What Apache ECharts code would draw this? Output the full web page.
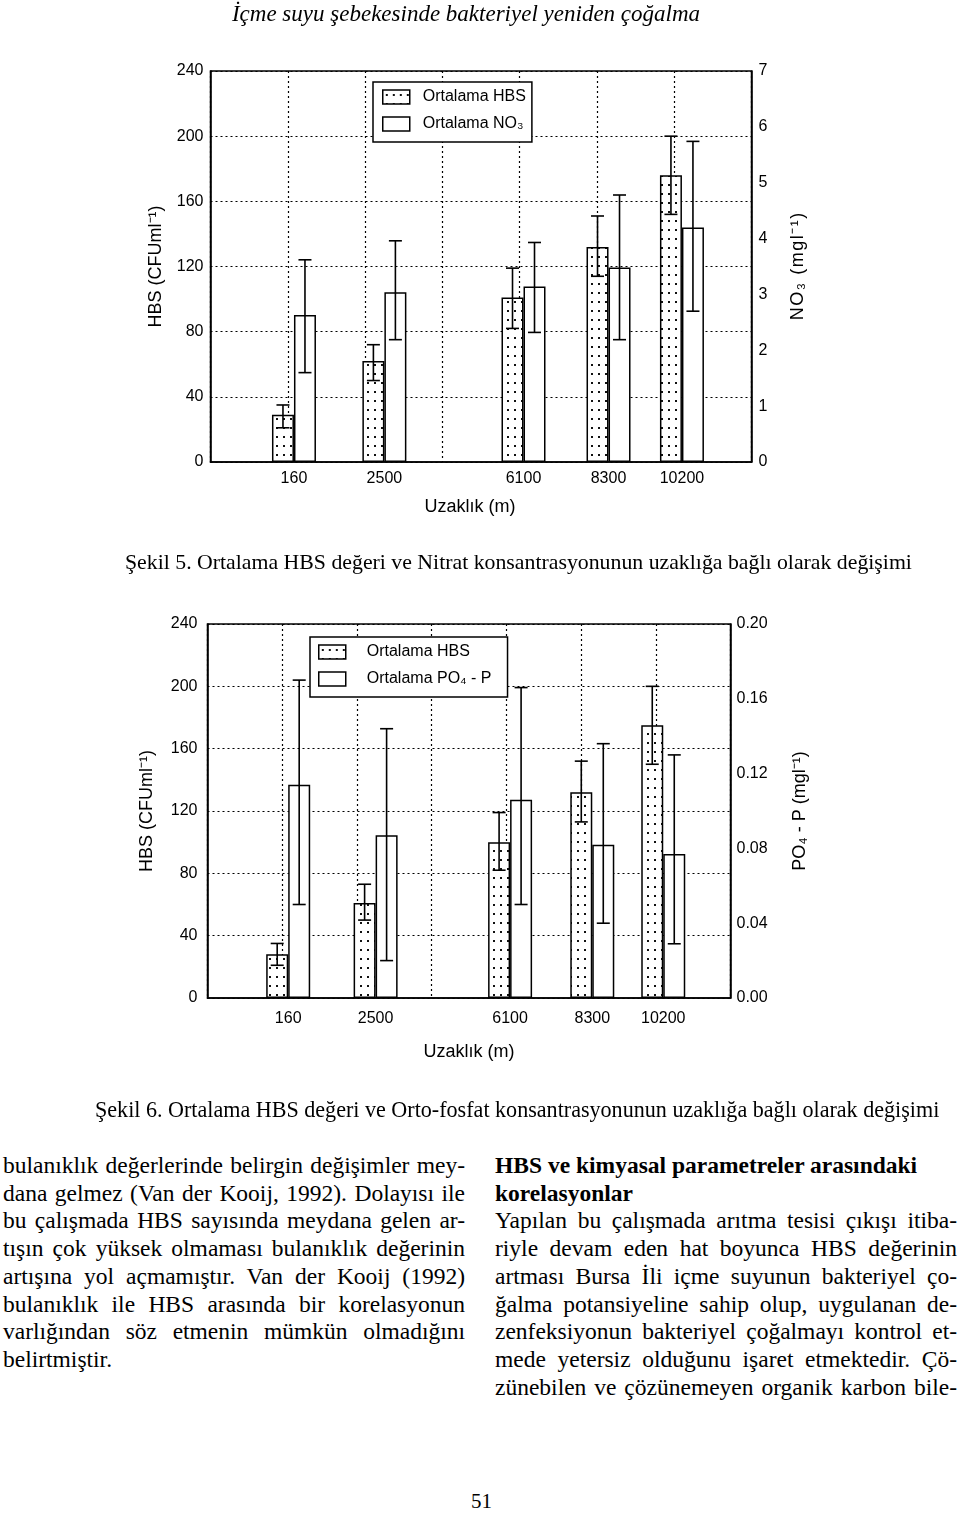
<!DOCTYPE html>
<html><head><meta charset="utf-8">
<script src="https://cdn.jsdelivr.net/npm/echarts@6/dist/echarts.min.js"></script>
<style>
html,body{margin:0;padding:0;background:#fff}
body{width:960px;height:1516px;position:relative;overflow:hidden;font-family:"Liberation Serif","Times New Roman",serif;color:#000}
#chart{position:absolute;left:0;top:0;width:960px;height:1100px}
.t{position:absolute;white-space:nowrap}
.hdr{top:0px;left:0;width:932px;text-align:center;font-style:italic;font-size:23px;line-height:28px}
.cap{font-size:21.8px;line-height:26px}
.col{position:absolute;font-size:23.5px;line-height:27.7px;width:462px}
.j{text-align:justify;text-align-last:justify}
.b{font-weight:bold}
</style>
</head><body>
<div id="chart"></div>
<div class="t hdr">İçme suyu şebekesinde bakteriyel yeniden çoğalma</div>
<div class="t cap" style="left:125px;top:549px">Şekil 5. Ortalama HBS değeri ve Nitrat konsantrasyonunun uzaklığa bağlı olarak değişimi</div>
<div class="t cap" style="left:95px;top:1097px;font-size:22.1px">Şekil 6. Ortalama HBS değeri ve Orto-fosfat konsantrasyonunun uzaklığa bağlı olarak değişimi</div>
<div class="col" style="left:3px;top:1152px">
<div class="j">bulanıklık değerlerinde belirgin değişimler mey-</div>
<div class="j">dana gelmez (Van der Kooij, 1992). Dolayısı ile</div>
<div class="j">bu çalışmada HBS sayısında meydana gelen ar-</div>
<div class="j">tışın çok yüksek olmaması bulanıklık değerinin</div>
<div class="j">artışına yol açmamıştır. Van der Kooij (1992)</div>
<div class="j">bulanıklık ile HBS arasında bir korelasyonun</div>
<div class="j">varlığından söz etmenin mümkün olmadığını</div>
<div>belirtmiştir.</div>
</div>
<div class="col" style="left:495px;top:1152px">
<div class="b">HBS ve kimyasal parametreler arasındaki</div>
<div class="b">korelasyonlar</div>
<div class="j">Yapılan bu çalışmada arıtma tesisi çıkışı itiba-</div>
<div class="j">riyle devam eden hat boyunca HBS değerinin</div>
<div class="j">artması Bursa İli içme suyunun bakteriyel ço-</div>
<div class="j">ğalma potansiyeline sahip olup, uygulanan de-</div>
<div class="j">zenfeksiyonun bakteriyel çoğalmayı kontrol et-</div>
<div class="j">mede yetersiz olduğunu işaret etmektedir. Çö-</div>
<div class="j">zünebilen ve çözünemeyen organik karbon bile-</div>
</div>
<div class="t" style="left:471px;top:1489px;font-size:21px">51</div>
<script>
// ---- data ----
const distances = [160, 2500, 6100, 8300, 10200];
const distanceTicks = [160, 2500, 6100, 8300, 10200];
const hbsTicks = [0, 40, 80, 120, 160, 200, 240];
const no3Ticks = [0, 1, 2, 3, 4, 5, 6, 7];
const po4Ticks = [0, 0.04, 0.08, 0.12, 0.16, 0.20];

// Figure 5
const hbs5 = [29, 62, 101, 132, 176];
const hbs5Low = [21, 50, 82, 114, 152];
const hbs5High = [35, 72, 119, 151, 200];
const no3 = [2.63, 3.04, 3.14, 3.48, 4.20];
const no3Low = [1.60, 2.19, 2.32, 2.19, 2.70];
const no3High = [3.62, 3.96, 3.93, 4.78, 5.74];

// Figure 6
const hbs6 = [28, 61, 100, 132, 175];
const hbs6Low = [21, 50, 82, 113, 150];
const hbs6High = [35, 73, 119, 152, 200];
const po4 = [0.114, 0.087, 0.106, 0.082, 0.077];
const po4Low = [0.050, 0.020, 0.050, 0.040, 0.029];
const po4High = [0.170, 0.144, 0.166, 0.136, 0.130];

// ---- style ----
const BAR_W = 22, CAP = 13;
const FONT = '"Liberation Sans", Arial, sans-serif';
function dotPattern(){
  const c = document.createElement('canvas'); c.width = 7; c.height = 9;
  const g = c.getContext('2d'); g.fillStyle = '#fff'; g.fillRect(0,0,7,9);
  g.fillStyle = '#111'; g.fillRect(3,4,2,2);
  return c;
}
const dotFill = {image: dotPattern(), repeat: 'repeat'};
const dotted = {color:'#000', width:1.2, type:[2,3]};
const labelStyle = {color:'#000', fontSize:16, fontFamily:FONT};
const nameStyle = {color:'#000', fontSize:18, fontFamily:FONT};
const sp = s => s.split('').join('\u200a');

function xAxisDef(gi, margin, nameGap, padRight){
  return {type:'value', gridIndex:gi, min:-2000, max:12000, interval:2000,
    axisLine:{show:true, onZero:false, lineStyle:{color:'#000', width:1.5}},
    axisTick:{show:false},
    splitLine:{show:true, lineStyle:dotted},
    axisLabel:Object.assign({margin:margin, customValues:distanceTicks, formatter:v=>String(v)}, labelStyle),
    name:'Uzaklık (m)', nameLocation:'middle', nameGap:nameGap,
    nameTextStyle:Object.assign({padding:[0,padRight,0,0]}, nameStyle)};
}
function yAxisDef(gi, pos, ticks, split, margin, name, nameGap, fmt){
  return {type:'value', gridIndex:gi, position:pos, min:ticks[0], max:ticks[ticks.length-1],
    interval:ticks[1]-ticks[0],
    axisLine:{show:true, onZero:false, lineStyle:{color:'#000', width:1.5}},
    axisTick:{show:false},
    splitLine:{show:split, lineStyle:dotted},
    axisLabel:Object.assign({margin:margin, formatter:fmt}, labelStyle),
    name:name, nameLocation:'middle', nameGap:nameGap, nameRotate:90,
    nameTextStyle:nameStyle};
}
function barSeries(name, xi, yi, vals, fill){
  return {type:'bar', name:name, xAxisIndex:xi, yAxisIndex:yi, barWidth:BAR_W, barGap:'0%',
    data: distances.map((d,i)=>[d, vals[i]]),
    itemStyle:{color:fill, borderColor:'#000', borderWidth:1.5},
    emphasis:{disabled:true}, z:2};
}
function errSeries(xi, yi, low, high, side){
  return {type:'custom', xAxisIndex:xi, yAxisIndex:yi, z:5, silent:true,
    data: distances.map((d,i)=>[d, low[i], high[i]]),
    encode:{x:0, y:[1,2]},
    renderItem(params, api){
      const pt = api.coord([api.value(0), api.value(2)]);
      const pb = api.coord([api.value(0), api.value(1)]);
      const x = pt[0] + side*BAR_W/2, h = CAP/2;
      const st = {stroke:'#000', lineWidth:1.6};
      return {type:'group', children:[
        {type:'line', shape:{x1:x, y1:pt[1], x2:x, y2:pb[1]}, style:st},
        {type:'line', shape:{x1:x-h, y1:pt[1], x2:x+h, y2:pt[1]}, style:st},
        {type:'line', shape:{x1:x-h, y1:pb[1], x2:x+h, y2:pb[1]}, style:st}
      ]};
    }};
}
function legendDef(left, top, names, padding, textPad){
  return {orient:'vertical', left:left, top:top, data:names, itemWidth:27, itemHeight:14, itemGap:11,
    padding:padding, backgroundColor:'#fff', borderColor:'#000', borderWidth:1.5,
    selectedMode:false, icon:'rect',
    itemStyle:{borderColor:'#000', borderWidth:1.5},
    textStyle:{color:'#000', fontSize:16, fontFamily:FONT, padding:[0,0,0,textPad]}};
}

const chart = echarts.init(document.getElementById('chart'), null, {renderer:'canvas'});
chart.setOption({
  animation:false,
  backgroundColor:'#fff',
  grid:[
    {left:210.5, top:71, width:541, height:391, show:true, borderColor:'#000', borderWidth:1.5, backgroundColor:'transparent'},
    {left:207.5, top:624, width:523, height:374, show:true, borderColor:'#000', borderWidth:1.5, backgroundColor:'transparent'}
  ],
  xAxis:[xAxisDef(0, 9, 36, 22), xAxisDef(1, 13, 45, 0)],
  yAxis:[
    yAxisDef(0, 'left', hbsTicks, true, 7, 'HBS (CFUml⁻¹)', 45),
    yAxisDef(0, 'right', no3Ticks, false, 7, sp('NO₃ (mgl⁻¹)'), 38),
    yAxisDef(1, 'left', hbsTicks, true, 10, 'HBS (CFUml⁻¹)', 51),
    yAxisDef(1, 'right', po4Ticks, false, 6, 'PO₄ - P (mgl⁻¹)', 61, v=>v.toFixed(2))
  ],
  legend:[
    legendDef(373, 82, ['Ortalama HBS', 'Ortalama NO₃'], [7,6,10,9], 8),
    legendDef(310, 637, ['Ortalama HBS', 'Ortalama PO₄ - P'], [7,16,10,8], 16)
  ],
  series:[
    barSeries('Ortalama HBS', 0, 0, hbs5, dotFill),
    barSeries('Ortalama NO₃', 0, 1, no3, '#fff'),
    errSeries(0, 0, hbs5Low, hbs5High, -1),
    errSeries(0, 1, no3Low, no3High, 1),
    barSeries('Ortalama HBS', 1, 2, hbs6, dotFill),
    barSeries('Ortalama PO₄ - P', 1, 3, po4, '#fff'),
    errSeries(1, 2, hbs6Low, hbs6High, -1),
    errSeries(1, 3, po4Low, po4High, 1)
  ]
});
</script>
</body></html>
